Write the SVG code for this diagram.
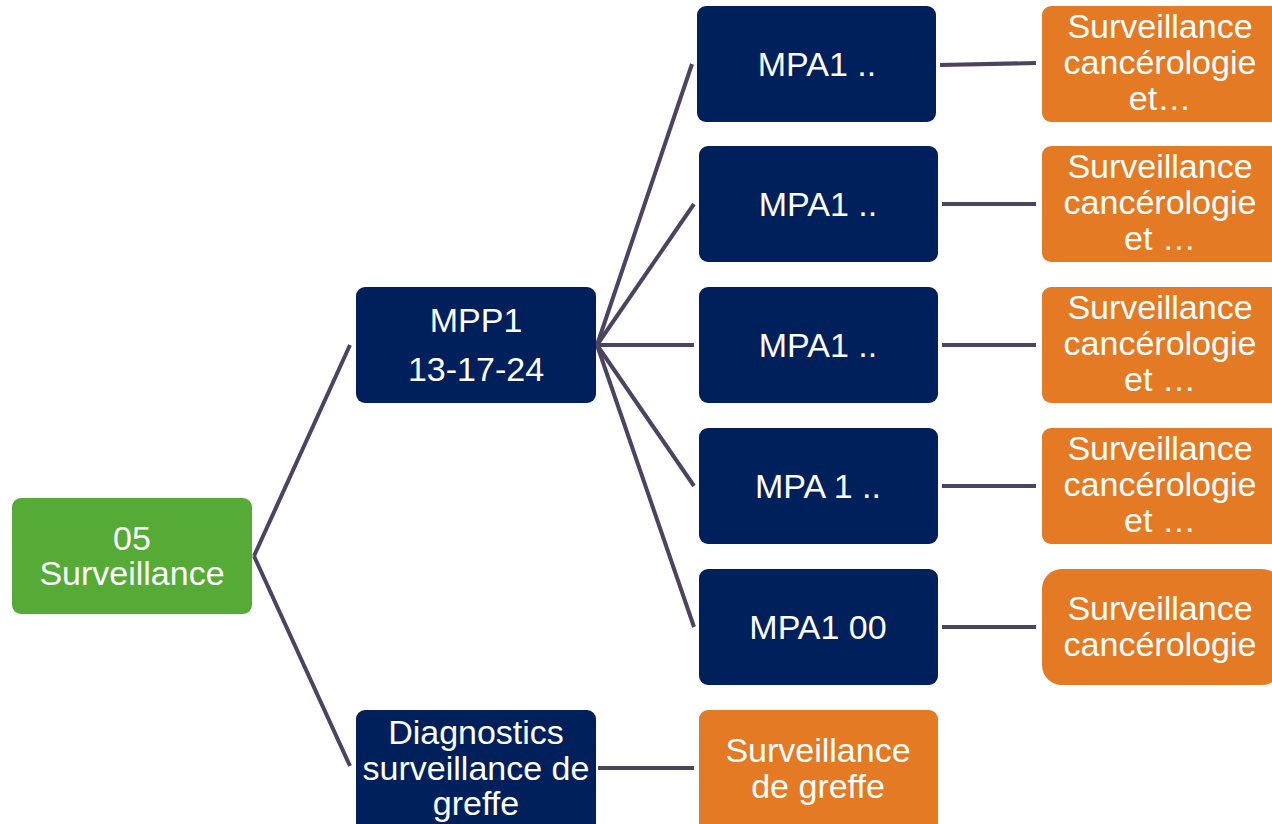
<svg xmlns="http://www.w3.org/2000/svg" width="1272" height="824" viewBox="0 0 1272 824">
<style>
.g{fill:#56aa36}
.n{fill:#00205b}
.o{fill:#e57a24}
text{font-family:"Liberation Sans",Arial,sans-serif;font-size:34px;fill:#fff;text-anchor:middle}
.c line{stroke:#4b4360;stroke-width:4;stroke-linecap:butt}
</style>
<rect width="1272" height="824" fill="#fff"/>
<g class="c" id="connectors">
<line x1="254" y1="556" x2="350" y2="345"/>
<line x1="254" y1="556" x2="350" y2="766"/>
<line x1="597" y1="345" x2="692" y2="64"/>
<line x1="597" y1="345" x2="694" y2="204"/>
<line x1="597" y1="345" x2="694" y2="345"/>
<line x1="597" y1="345" x2="694" y2="486"/>
<line x1="597" y1="345" x2="694" y2="627"/>
<line x1="940" y1="65" x2="1036" y2="63"/>
<line x1="942" y1="204" x2="1036" y2="204"/>
<line x1="942" y1="345" x2="1036" y2="345"/>
<line x1="942" y1="486" x2="1036" y2="486"/>
<line x1="942" y1="627" x2="1036" y2="627"/>
<line x1="598" y1="768" x2="694" y2="768"/>
</g>
<g id="root"><rect class="g" x="12" y="498" width="240" height="116" rx="9"/><text x="132" y="550">05</text><text x="132" y="585">Surveillance</text></g>
<g id="mpp1"><rect class="n" x="356" y="287" width="240" height="116" rx="9"/><text x="476" y="332">MPP1</text><text x="476" y="381">13-17-24</text></g>
<g id="diag"><rect class="n" x="356" y="710" width="240" height="130" rx="9"/><text x="476" y="744">Diagnostics</text><text x="476" y="780">surveillance de</text><text x="476" y="815">greffe</text></g>
<g id="mpa1"><rect class="n" x="697" y="6" width="239" height="116" rx="9"/><text x="817" y="76">MPA1 ..</text></g>
<g id="mpa2"><rect class="n" x="699" y="146" width="239" height="116" rx="9"/><text x="818" y="216">MPA1 ..</text></g>
<g id="mpa3"><rect class="n" x="699" y="287" width="239" height="116" rx="9"/><text x="818" y="357">MPA1 ..</text></g>
<g id="mpa4"><rect class="n" x="699" y="428" width="239" height="116" rx="9"/><text x="818" y="498">MPA 1 ..</text></g>
<g id="mpa5"><rect class="n" x="699" y="569" width="239" height="116" rx="9"/><text x="818" y="639">MPA1 00</text></g>
<g id="surv1"><rect class="o" x="1042" y="6" width="240" height="116" rx="9"/><text x="1160" y="38">Surveillance</text><text x="1160" y="74">cancérologie</text><text x="1160" y="110">et…</text></g>
<g id="surv2"><rect class="o" x="1042" y="146" width="240" height="116" rx="9"/><text x="1160" y="178">Surveillance</text><text x="1160" y="214">cancérologie</text><text x="1160" y="250">et …</text></g>
<g id="surv3"><rect class="o" x="1042" y="287" width="240" height="116" rx="9"/><text x="1160" y="319">Surveillance</text><text x="1160" y="355">cancérologie</text><text x="1160" y="391">et …</text></g>
<g id="surv4"><rect class="o" x="1042" y="428" width="240" height="116" rx="9"/><text x="1160" y="460">Surveillance</text><text x="1160" y="496">cancérologie</text><text x="1160" y="532">et …</text></g>
<g id="surv5"><rect class="o" x="1042" y="569" width="240" height="116" rx="20"/><text x="1160" y="620">Surveillance</text><text x="1160" y="656">cancérologie</text></g>
<g id="greffe"><rect class="o" x="699" y="710" width="239" height="130" rx="9"/><text x="818" y="762">Surveillance</text><text x="818" y="798">de greffe</text></g>
</svg>
